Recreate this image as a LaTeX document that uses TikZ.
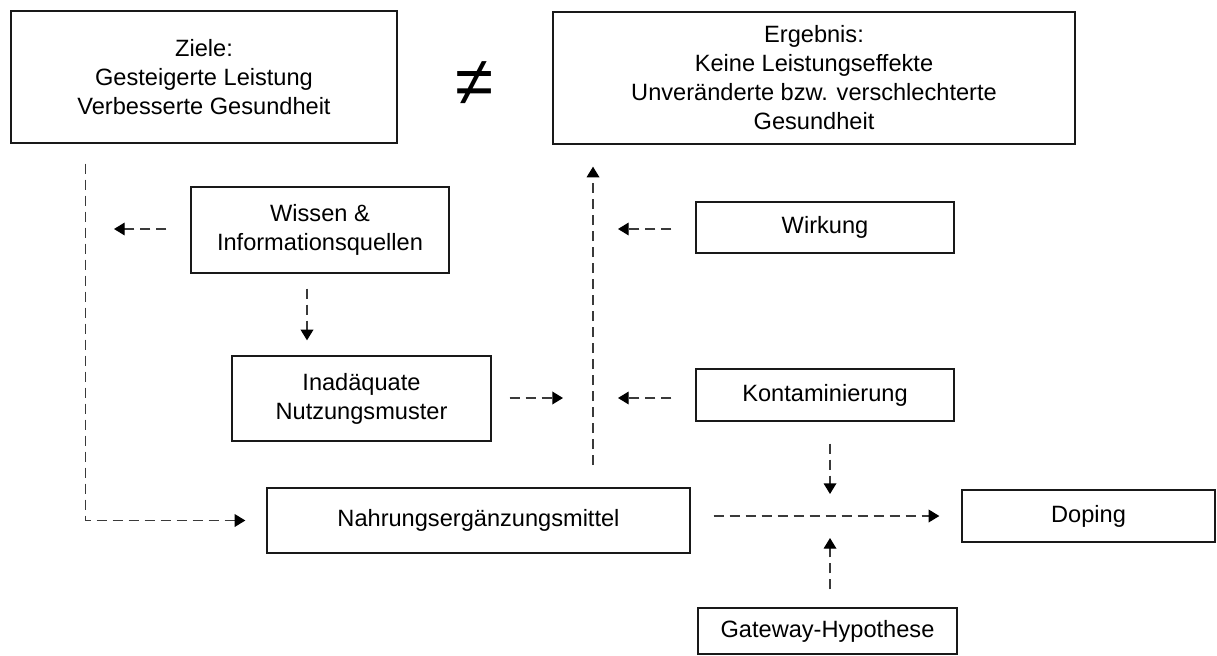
\documentclass[tikz,border=0pt]{standalone}
\usepackage{fontspec}
\setmainfont{Liberation Sans}
\usetikzlibrary{arrows.meta,calc}
\definecolor{dashgray}{HTML}{3A3A3A}
\newcommand\lbl{\fontsize{17.7pt}{21.75pt}\selectfont}
\begin{document}
\begin{tikzpicture}[x=0.75pt,y=-0.75pt,
  box/.style={draw=black!90, line width=1pt, inner sep=0pt, align=center, font=\lbl},
  conn/.style={draw=dashgray, line width=1pt, dash pattern=on 7.5pt off 4.5pt,
    -{Triangle[length=8pt,width=9.5pt,color=black]}}]
\useasboundingbox (0,0) rectangle (1217,656);

% boxes
\node[box, minimum width=289.5pt, minimum height=99pt] (ziele) at (204,77)
  {Ziele:\\Gesteigerte Leistung\\Verbesserte Gesundheit};
\node[box, minimum width=391.5pt, minimum height=99pt] (ergeb) at (814,78)
  {Ergebnis:\\Keine Leistungseffekte\\Unveränderte bzw. verschlechterte\\Gesundheit};
\node[font=\fontsize{52pt}{52pt}\selectfont, inner sep=0pt] (neq) at (475,84) {≠};
\node[box, minimum width=193.5pt, minimum height=64.5pt] (wissen) at (320,230)
  {Wissen \&\\Informationsquellen};
\node[box, minimum width=194.25pt, minimum height=63.75pt] (inad) at (361.5,398.5)
  {Inadäquate\\Nutzungsmuster};
\node[box, minimum width=193.5pt, minimum height=38.25pt] (wirk) at (825,227.5) {Wirkung};
\node[box, minimum width=193.5pt, minimum height=39pt] (kont) at (825,395) {Kontaminierung};
\node[box, minimum width=317.25pt, minimum height=48.75pt] (nahr) at (478.5,520.5)
  {Nahrungsergänzungsmittel};
\node[box, minimum width=189.75pt, minimum height=39pt] (doping) at (1088.5,516) {Doping};
\node[box, minimum width=194.25pt, minimum height=34.5pt] (gate) at (827.5,631) {Gateway-Hypothese};

% free ends of the connectors
\coordinate (kl) at (114,229);
\coordinate (ml) at (563,398);
\coordinate (vb) at (593,465);
\coordinate (wl) at (618,229);
\coordinate (kol) at (618,398);
\coordinate (mx) at (830,516);

% connectors
\draw[conn] ($(ziele.south west)+(75,20)$) |- ($(nahr.west)+(-21,0)$);
\draw[conn, shorten <=18pt] (wissen.west |- kl) -- (kl);
\draw[conn, shorten <=11.25pt, shorten >=11.25pt] ([xshift=-9.75pt]wissen.south) -- ([xshift=-9.75pt]wissen.south |- inad.north);
\draw[conn, shorten <=13.5pt] (inad.east |- ml) -- (ml);
\draw[conn, shorten >=16.5pt] (vb) -- (vb |- ergeb.south);
\draw[conn, shorten <=18pt] (wirk.west |- wl) -- (wl);
\draw[conn, shorten <=18pt] (kont.west |- kol) -- (kol);
\draw[conn, shorten <=17.25pt, shorten >=16.5pt] (nahr.east |- mx) -- (doping.west |- mx);
\draw[conn, shorten <=16.5pt, shorten >=16.5pt] (kont.south -| mx) -- (mx);
\draw[conn, shorten <=13.5pt, shorten >=16.5pt] (gate.north -| mx) -- (mx);
\end{tikzpicture}
\end{document}
